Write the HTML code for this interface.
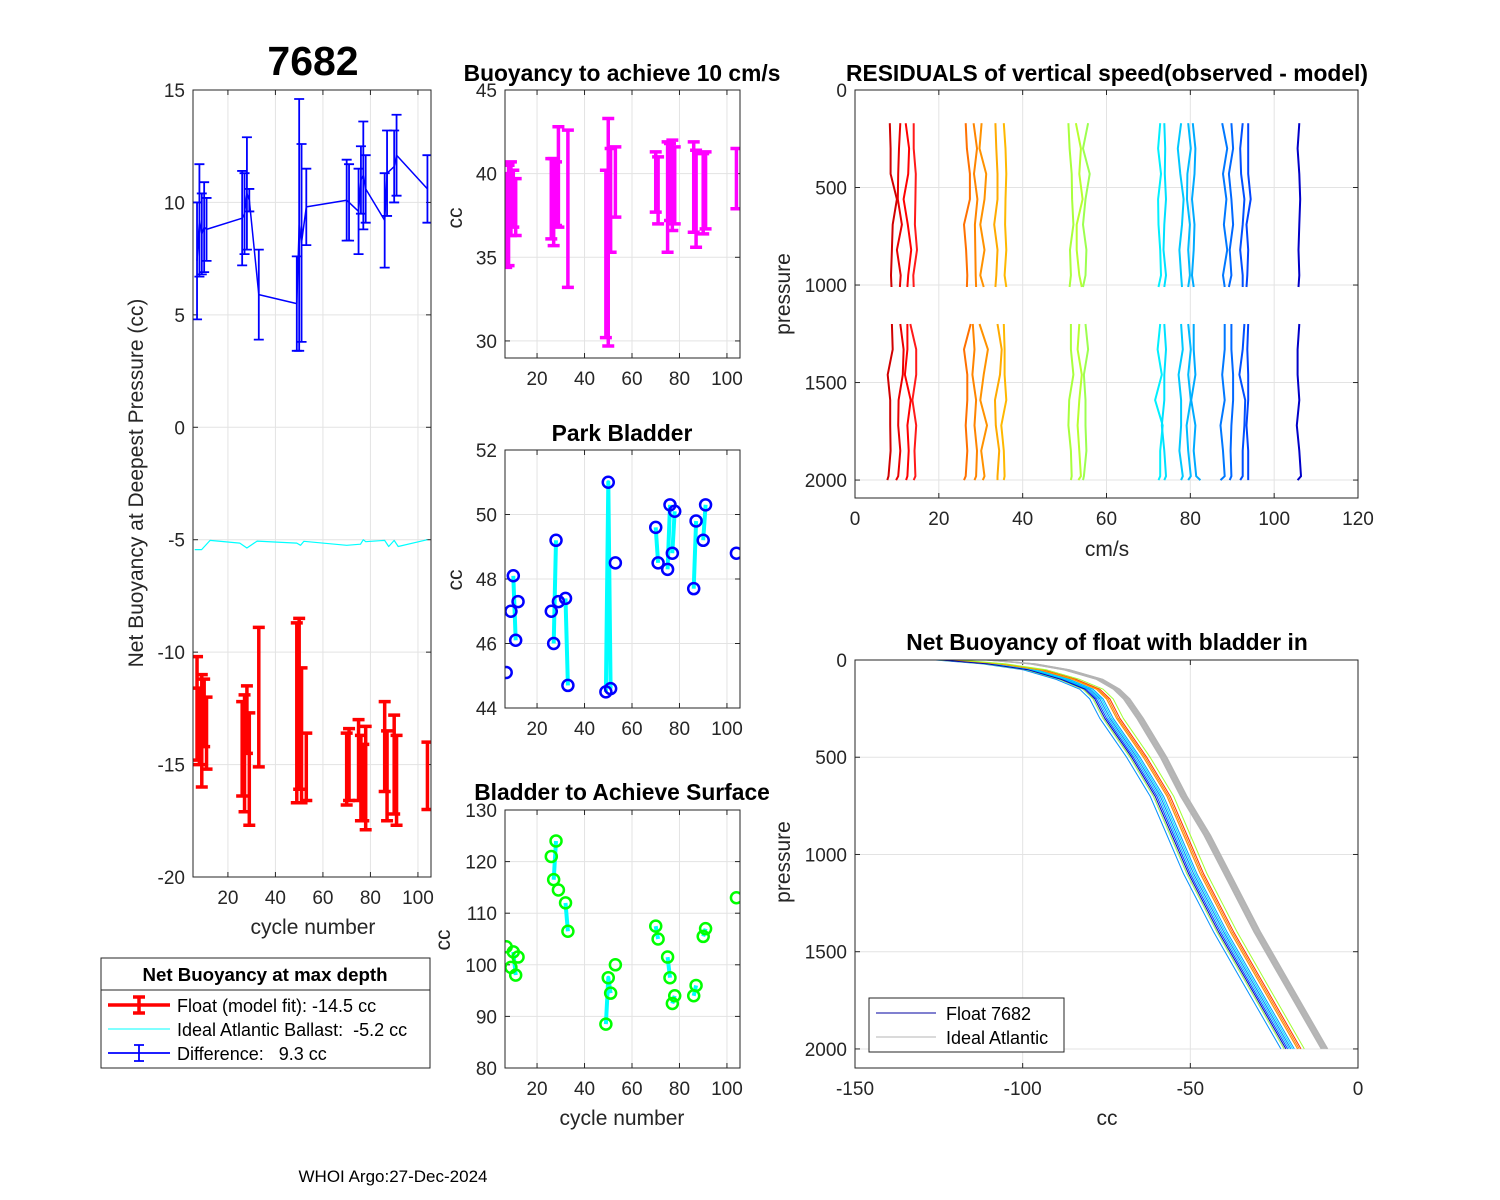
<!DOCTYPE html>
<html><head><meta charset="utf-8">
<style>
html,body{margin:0;padding:0;background:#fff;}
svg{display:block;font-family:"Liberation Sans",Arial,sans-serif;}
</style></head>
<body>
<svg id="fig" width="1500" height="1200" viewBox="0 0 1500 1200" xmlns="http://www.w3.org/2000/svg"></svg>
<script>
// ---------- DATA ----------
const cycles   = [7,8,9,10,11,26,27,28,29,33,49,50,51,53,70,71,75,76,77,78,86,87,90,91,104];
const diffVal  = [7.4,9.2,8.6,8.9,8.8,9.3,9.5,10.4,10.1,5.9,5.5,9.0,8.2,9.8,10.1,10.0,9.6,11.0,11.2,10.6,9.2,11.3,11.6,12.1,10.6];
const diffErr  = [2.6,2.5,1.8,2.0,1.4,2.1,1.8,2.5,0.5,2.0,2.1,5.6,4.4,1.7,1.8,1.7,1.9,1.5,2.4,1.5,2.1,1.9,1.6,1.8,1.5];
const floatVal = [-12.5,-13.3,-13.5,-12.7,-13.6,-14.3,-14.5,-13.0,-15.2,-12.0,-12.7,-12.3,-13.7,-15.1,-15.2,-15.0,-14.8,-15.6,-15.8,-15.6,-14.2,-15.5,-15.0,-15.7,-15.5];
const floatErr = [2.3,1.7,2.5,1.5,1.6,2.1,2.6,1.5,2.5,3.1,4.0,3.8,3.0,1.5,1.6,1.6,1.8,1.9,1.7,2.3,2.0,2.0,2.2,2.0,1.5];
const idealCyc = [6,8.9,12.5,25,28,32.3,49,50.6,52,70,75.8,77,78,86,87.7,90,91.7,104];
const idealVal = [-5.44,-5.44,-5.03,-5.15,-5.37,-5.06,-5.15,-5.25,-5.07,-5.25,-5.2,-5.0,-5.09,-5.03,-5.3,-5.03,-5.3,-5.0];
const b10Val   = [37.2,37.5,38.5,38.5,38.0,38.5,38.3,38.8,39.8,37.9,35.2,36.5,38.4,39.5,39.5,39.0,38.6,39.5,39.3,39.3,39.2,38.5,38.8,39.0,39.7];
const b10Err   = [2.8,3.0,2.2,1.7,1.7,2.4,2.6,1.9,3.0,4.7,5.0,6.8,3.1,2.1,1.8,2.0,3.3,2.3,2.7,2.3,2.7,2.9,2.4,2.3,1.8];
const bladCyc  = [7,9,10,11,12,26,27,28,29,32,33,49,50,51,53,70,71,75,76,77,78,86,87,90,91,104];
const bladGrp  = [1,2,3,3,4,5,6,6,7,8,8,9,9,9,10,11,11,12,12,13,13,14,14,15,15,16];
const parkVal  = [45.1,47.0,48.1,46.1,47.3,47.0,46.0,49.2,47.3,47.4,44.7,44.5,51.0,44.6,48.5,49.6,48.5,48.3,50.3,48.8,50.1,47.7,49.8,49.2,50.3,48.8];
const surfVal  = [103.5,99.5,102.5,98.0,101.5,121.0,116.5,124.0,114.5,112.0,106.5,88.5,97.5,94.5,100.0,107.5,105.0,101.5,97.5,92.5,94.0,94.0,96.0,105.5,107.0,113.0];
// residual profiles
const resPTop = [170,300,430,560,690,820,950,1010];
const resPBot = [1200,1330,1460,1590,1720,1850,1980,2000];
const resColor = ["#d00000","#e80000","#ff0000","#ff1a1a","#ff7000","#ff8400","#ff9200","#ffaa00","#ffb800","#a8ff3c","#b8ff30","#9cff50","#00f0ff","#00e0ff","#00c8ff","#00bbff","#00aaff","#0078ff","#0068ff","#0050ff","#0044ff","#0000c8"];
const resBase  = [9.0,10.8,12.5,14.0,27.0,28.5,30.5,34.0,35.5,51.5,53.5,55.0,72.8,73.8,77.8,79.5,80.8,88.2,89.8,92.5,93.8,106.0];
const resTop = [
 [-0.7,-0.5,-0.5,1.0,0.0,-0.2,-0.4,-0.3],[0.0,-0.3,-0.5,-0.6,0.4,-0.8,0.1,-0.1],[-0.4,0.4,0.2,-0.9,0.1,0.9,0.2,0.0],[0.0,0.0,0.5,0.4,0.3,0.8,-0.1,0.0],
 [-0.6,-0.3,0.4,0.4,-1.0,-0.5,-0.2,-0.3],[-0.2,0.6,-0.1,0.7,0.1,0.2,0.3,0.4],[-0.3,-0.8,0.8,0.4,-0.6,0.4,-0.6,0.2],[-0.5,-0.3,0.0,0.0,-0.8,0.0,-0.3,-0.5],[0.0,0.4,0.6,0.4,0.3,0.6,0.2,0.6],
 [-0.6,-0.3,0.2,0.3,0.6,-0.2,0.0,-0.3],[-0.8,0.4,0.0,0.8,-0.6,-0.6,0.0,0.6],[0.6,-0.6,1.0,0.0,-0.6,0.2,0.0,-0.6],
 [0.0,-0.5,0.2,-0.5,-0.4,0.0,0.2,-0.4],[0.0,0.2,0.1,0.4,0.0,-0.2,0.4,0.0],
 [0.0,-0.8,-0.2,0.6,0.2,-0.4,0.0,0.2],[0.0,0.6,-0.2,-0.3,0.4,0.0,0.4,0.0],[-0.2,0.4,0.2,-0.4,0.2,0.0,-0.4,0.0],
 [-0.6,0.6,-0.4,0.4,-0.2,0.6,-0.4,0.0],[0.0,0.4,-0.6,0.0,0.4,-0.4,0.0,-0.6],[0.0,-0.6,-0.4,0.4,0.0,-0.6,0.0,0.0],[0.0,0.0,0.0,0.6,-0.4,0.0,-0.2,-0.4],
 [0.0,-0.4,0.0,0.2,0.0,-0.2,0.0,-0.2]];
const resBot = [
 [-0.2,0.0,-1.2,-0.6,-0.6,-0.5,-1.0,-1.3],[0.0,0.8,0.6,-0.4,-0.5,0.0,-0.5,-1.0],[0.0,0.0,-0.6,0.8,0.0,0.3,0.0,-0.3],[-0.8,0.6,0.6,-0.3,0.6,0.2,0.4,0.0],
 [0.6,-1.0,-0.2,-0.2,-0.6,-0.2,-0.6,-1.0],[-0.4,0.0,-0.5,0.4,0.0,0.6,0.4,0.0],[-0.8,1.2,0.2,-0.6,1.0,-0.4,0.4,0.0],[0.0,1.0,0.6,-0.6,-0.4,0.4,0.0,0.0],[0.0,0.2,0.2,0.6,-0.6,0.0,0.2,0.0],
 [0.0,0.0,0.6,-0.4,-0.6,0.0,0.2,0.0],[0.0,-0.4,0.6,0.0,-0.4,0.0,0.4,-0.2],[0.0,0.6,-0.4,0.0,0.0,0.2,-0.4,-0.6],
 [0.0,-0.6,0.4,-1.2,0.6,0.0,0.0,-0.4],[0.0,0.4,0.0,0.0,-0.6,0.0,0.4,0.0],
 [0.0,0.4,-0.6,0.0,0.0,-0.4,0.4,0.0],[0.0,0.6,0.0,0.6,-0.4,0.0,0.6,0.0],[0.0,0.0,0.4,-0.6,0.4,0.0,0.6,1.6],
 [0.0,0.0,-0.6,0.0,-1.0,-0.4,0.0,-1.0],[0.0,0.0,0.4,0.4,0.0,-0.2,0.0,-0.4],[0.4,0.0,-0.8,0.6,0.4,0.0,0.0,-0.6],[0.0,-0.2,0.0,0.0,-0.4,0.0,0.0,0.0],
 [0.0,-0.4,-0.4,0.0,-0.6,0.0,0.4,-0.4]];
// net buoyancy profiles
const nbP        = [0,20,50,100,150,200,300,500,700,900,1100,1400,1700,2000];
const nbFloatCC  = [-124,-110,-98,-88,-81,-78,-75,-67,-60,-55,-50,-41,-31,-21];
const nbIdealCC  = [-110,-97,-87,-77,-72,-69,-65,-58,-52,-45,-39,-30,-20,-10];
const nbFloatColor  = ["#0040ff","#0060ff","#0080ff","#0090ff","#00a0ff","#00c0ff","#00e0ff","#ff0000","#ff3000","#ff8000","#ffa000","#a0ff30","#b0ff40","#0000c0"];
const nbFloatOffset = [0,-1,1,-2,2,0.5,1.5,3,4,3.5,3,5,-1,-0.5];
const nbIdealOffset = [-1,-0.6,-0.3,0,0.3,0.6,1,-0.8,0.8];

// ---------- HELPERS ----------
const NS="http://www.w3.org/2000/svg";
const svg=document.getElementById('fig');
function mk(tag,attrs,parent){const e=document.createElementNS(NS,tag);for(const k in attrs)e.setAttribute(k,attrs[k]);(parent||svg).appendChild(e);return e;}
function txt(s,x,y,size,opts,parent){opts=opts||{};const e=mk('text',{x:x,y:y,'font-size':size,'text-anchor':opts.anchor||'middle',fill:opts.fill||'#262626','font-weight':opts.bold?'bold':'normal'},parent);if(opts.rot)e.setAttribute('transform','rotate(-90 '+x+' '+y+')');e.setAttribute('xml:space','preserve');e.style.whiteSpace='pre';e.textContent=s;return e;}

function axes(name,o){
  const g=mk('g',{});
  
  
  const sx=v=>o.x0+(v-o.xmin)/(o.xmax-o.xmin)*o.w;
  const sy=o.rev? v=>o.y0+(v-o.ymin)/(o.ymax-o.ymin)*o.h : v=>o.y0+o.h-(v-o.ymin)/(o.ymax-o.ymin)*o.h;
  mk('rect',{x:o.x0,y:o.y0,width:o.w,height:o.h,fill:'#fff'},g);
  o.xt.forEach(t=>{const X=sx(t);mk('line',{x1:X,x2:X,y1:o.y0,y2:o.y0+o.h,stroke:'#e3e3e3','stroke-width':1},g);});
  o.yt.forEach(t=>{const Y=sy(t);mk('line',{x1:o.x0,x2:o.x0+o.w,y1:Y,y2:Y,stroke:'#e3e3e3','stroke-width':1},g);});
  const tg=mk('g',{},g);
  
  
  o.xt.forEach(t=>{const X=sx(t);
    mk('line',{x1:X,x2:X,y1:o.y0+o.h,y2:o.y0+o.h-5,stroke:'#262626'},tg);
    mk('line',{x1:X,x2:X,y1:o.y0,y2:o.y0+5,stroke:'#262626'},tg);
    txt(String(t),X,o.y0+o.h+27,19,{},tg);});
  o.yt.forEach(t=>{const Y=sy(t);
    mk('line',{x1:o.x0,x2:o.x0+5,y1:Y,y2:Y,stroke:'#262626'},tg);
    mk('line',{x1:o.x0+o.w,x2:o.x0+o.w-5,y1:Y,y2:Y,stroke:'#262626'},tg);
    txt(String(t),o.x0-8,Y+7,19,{anchor:'end'},tg);});
  const clip='clip-'+name;
  const cp=mk('clipPath',{id:clip},g);mk('rect',{x:o.x0,y:o.y0,width:o.w,height:o.h},cp);
  const plot=mk('g',{'clip-path':'url(#'+clip+')'},g);
  
  
  return {g,sx,sy,plot,o};
}
function finishBox(A){mk('rect',{x:A.o.x0,y:A.o.y0,width:A.o.w,height:A.o.h,fill:'none',stroke:'#262626','stroke-width':1},A.g);}
function poly(A,xs,ys,color,w,name,parent){
  const pts=xs.map((x,i)=>A.sx(x).toFixed(1)+','+A.sy(ys[i]).toFixed(1)).join(' ');
  const e=mk('polyline',{points:pts,fill:'none',stroke:color,'stroke-width':w,'stroke-linejoin':'round'},parent||A.plot);
  
  
  return e;
}
function errbars(A,xs,vs,es,color,w,cap,name){
  const g=mk('g',{},A.plot);
  
  
  xs.forEach((c,i)=>{const X=A.sx(c),Y1=A.sy(vs[i]-es[i]),Y2=A.sy(vs[i]+es[i]);
    const b=mk('path',{d:`M${X},${Y1}V${Y2}M${X-cap},${Y1}H${X+cap}M${X-cap},${Y2}H${X+cap}`,stroke:color,'stroke-width':w,fill:'none'},g);
    
    
  });
}
const TS=22.8;

// ---------- PANEL 1 ----------
const A1=axes('net-buoyancy-axes',{x0:193,y0:90,w:238,h:787,xmin:5.3,xmax:105.5,ymin:-20,ymax:15,xt:[20,40,60,80,100],yt:[-20,-15,-10,-5,0,5,10,15]});
poly(A1,idealCyc,idealVal,'#00ffff',1.2,'ideal-ballast-line');
errbars(A1,cycles,floatVal,floatErr,'#ff0000',3.5,6,'float-errorbars');
poly(A1,cycles,diffVal,'#0000ff',1.5,'difference-line');
errbars(A1,cycles,diffVal,diffErr,'#0000ff',1.8,5,'difference-errorbars');
finishBox(A1);
txt('7682',313,75,41,{bold:true,fill:'#000'});
txt('cycle number',313,934,21);
txt('Net Buoyancy at Deepest Pressure (cc)',143,483,21,{rot:true});

// ---------- PANEL 2 ----------
const A2=axes('buoyancy-10cms-axes',{x0:505,y0:90,w:235,h:268,xmin:6.5,xmax:105.5,ymin:28.98,ymax:45,xt:[20,40,60,80,100],yt:[30,35,40,45]});
errbars(A2,cycles,b10Val,b10Err,'#ff00ff',3.5,6,'buoyancy-10-errorbars');
finishBox(A2);
txt('Buoyancy to achieve 10 cm/s',622,81,TS,{bold:true,fill:'#000'});
txt('cc',462,218,21,{rot:true});

// ---------- PANEL 3 ----------
function grouped(A,vals,color,name,mcolor){
  const groups=[...new Set(bladGrp)];
  groups.forEach(gid=>{const idx=bladGrp.map((g,i)=>g===gid?i:-1).filter(i=>i>=0);
    if(idx.length>1)poly(A,idx.map(i=>bladCyc[i]),idx.map(i=>vals[i]),color,4,name+'-pair-line');});
  const g=mk('g',{},A.plot);
  
  
  bladCyc.forEach((c,i)=>{const m=mk('circle',{cx:A.sx(c),cy:A.sy(vals[i]),r:5.5,fill:'none',stroke:mcolor,'stroke-width':2.5},g);
    
    });
}
const A3=axes('park-bladder-axes',{x0:505,y0:450,w:235,h:258,xmin:6.5,xmax:105.5,ymin:44,ymax:52,xt:[20,40,60,80,100],yt:[44,46,48,50,52]});
grouped(A3,parkVal,'#00ffff','park-bladder','#0000ff');
finishBox(A3);
txt('Park Bladder',622,441,TS,{bold:true,fill:'#000'});
txt('cc',462,580,21,{rot:true});

// ---------- PANEL 4 ----------
const A4=axes('surface-bladder-axes',{x0:505,y0:810,w:235,h:258,xmin:6.5,xmax:105.5,ymin:80,ymax:130,xt:[20,40,60,80,100],yt:[80,90,100,110,120,130]});
grouped(A4,surfVal,'#00ffff','surface-bladder','#00ff00');
finishBox(A4);
txt('Bladder to Achieve Surface',622,800,TS,{bold:true,fill:'#000'});
txt('cc',450,940,21,{rot:true});
txt('cycle number',622,1125,21);

// ---------- RESIDUALS ----------
const A5=axes('residuals-axes',{x0:855,y0:90,w:503,h:408,xmin:0,xmax:120,ymin:0,ymax:2092,rev:true,xt:[0,20,40,60,80,100,120],yt:[0,500,1000,1500,2000]});
resBase.forEach((b,i)=>{
  poly(A5,resTop[i].map(d=>b+d),resPTop,resColor[i],2,'residual-profile-top');
  poly(A5,resBot[i].map(d=>b+d),resPBot,resColor[i],2,'residual-profile-bottom');
});
finishBox(A5);
txt('RESIDUALS of vertical speed(observed - model)',1107,81,TS,{bold:true,fill:'#000'});
txt('cm/s',1107,556,21);
txt('pressure',790,294,21,{rot:true});

// ---------- NET BUOYANCY PROFILES ----------
const A6=axes('net-buoyancy-profile-axes',{x0:855,y0:660,w:503,h:408,xmin:-150,xmax:0,ymin:0,ymax:2098,rev:true,xt:[-150,-100,-50,0],yt:[0,500,1000,1500,2000]});
nbIdealOffset.forEach(off=>poly(A6,nbIdealCC.map(v=>v+off),nbP,'#b4b4b4',1,'ideal-atlantic-profile'));
nbFloatOffset.forEach((off,i)=>poly(A6,nbFloatCC.map(v=>v+off),nbP,nbFloatColor[i],1,'float-profile'));
finishBox(A6);
txt('Net Buoyancy of float with bladder in',1107,650,TS,{bold:true,fill:'#000'});
txt('cc',1107,1125,21);
txt('pressure',790,862,21,{rot:true});
// legend
const lg=mk('g',{});


mk('rect',{x:869,y:998,width:195,height:54,fill:'#fff',stroke:'#262626'},lg);
mk('line',{x1:876,x2:936,y1:1013,y2:1013,stroke:'#0000a0','stroke-width':1},lg);
txt('Float 7682',946,1020,18,{anchor:'start',fill:'#000'},lg);
mk('line',{x1:876,x2:936,y1:1037,y2:1037,stroke:'#b4b4b4','stroke-width':1},lg);
txt('Ideal Atlantic',946,1044,18,{anchor:'start',fill:'#000'},lg);

// ---------- LEFT LEGEND ----------
const L=mk('g',{});


mk('rect',{x:101,y:958,width:329,height:110,fill:'#fff',stroke:'#262626'},L);
mk('line',{x1:101,x2:430,y1:990,y2:990,stroke:'#262626'},L);
txt('Net Buoyancy at max depth',265,981,18.7,{bold:true,fill:'#000'},L);
mk('path',{d:'M108,1005H170M139,997V1013M133,997H145M133,1013H145',stroke:'#ff0000','stroke-width':3.5,fill:'none'},L);
txt('Float (model fit): -14.5 cc',177,1012,18,{anchor:'start',fill:'#000'},L);
mk('line',{x1:108,x2:170,y1:1029,y2:1029,stroke:'#00ffff','stroke-width':1},L);
txt('Ideal Atlantic Ballast:  -5.2 cc',177,1036,18,{anchor:'start',fill:'#000'},L);
mk('path',{d:'M108,1053H170M139,1045V1061M134,1045H144M134,1061H144',stroke:'#0000ff','stroke-width':1.8,fill:'none'},L);
txt('Difference:   9.3 cc',177,1060,18,{anchor:'start',fill:'#000'},L);

txt('WHOI Argo:27-Dec-2024',393,1182,17,{fill:'#000'});
</script>
</body></html>
